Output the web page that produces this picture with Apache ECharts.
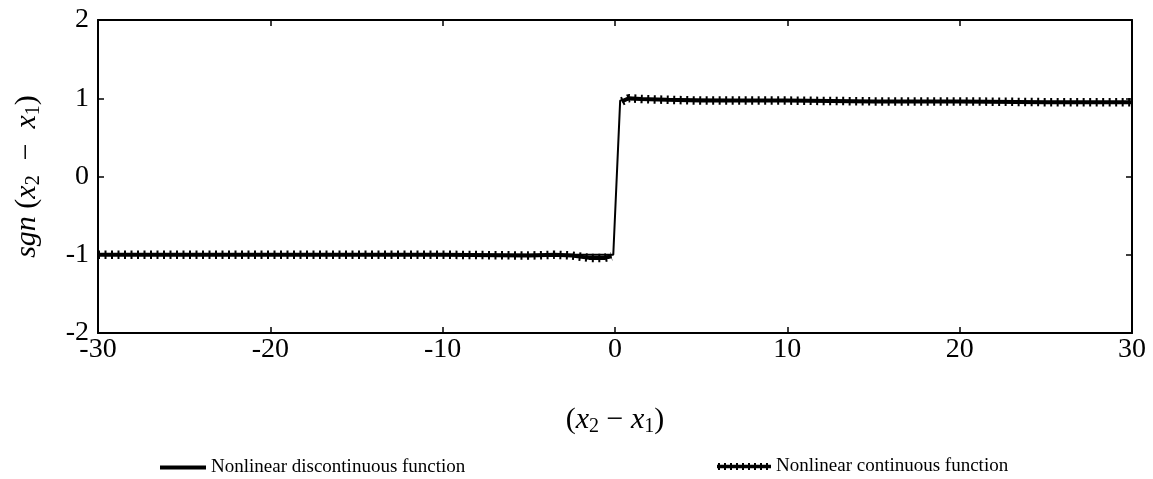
<!DOCTYPE html>
<html><head><meta charset="utf-8">
<script src="https://cdn.jsdelivr.net/npm/echarts@6/dist/echarts.min.js"></script>
<style>html,body{margin:0;padding:0;background:#fff}#c{width:1153px;height:479px}</style>
</head><body><div id="c"></div>
<script>
// Tick labels
const xTicks = [-30, -20, -10, 0, 10, 20, 30];
const yTicks = [-2, -1, 0, 1, 2];
// Nonlinear discontinuous function (thin line)
const discX = [-30, -10, -0.1, 0.3, 1, 10, 20, 30];
const discY = [-1.0, -1.0, -1.0, 0.97, 0.99, 0.97, 0.96, 0.95];
// Nonlinear continuous function (textured line); null = break
const contX = [-30, -20, -10, -5, -3.5, -2.5, -1.5, -0.6, -0.2, 0.2, 0.4, 0.8, 1.5, 3, 5, 10, 15, 20, 25, 30];
const contY = [-1.0, -1.0, -1.0, -1.01, -1.0, -1.01, -1.04, -1.04, -1.02, null, 0.96, 1.0, 0.99, 0.98, 0.97, 0.97, 0.96, 0.96, 0.95, 0.95];

const disc = discX.map((x, i) => [x, discY[i]]);
const cont = contX.map((x, i) => [x, contY[i]]);
const F = '"Liberation Serif", "DejaVu Serif", serif';
const chart = echarts.init(document.getElementById('c'));
const axisCommon = {
  axisLine: {show: true, onZero: false, lineStyle: {color: '#000', width: 2}},
  axisTick: {show: true, inside: true, length: 6, lineStyle: {color: '#000', width: 1.5}},
  splitLine: {show: false}
};
const mathRich = {
  p: {fontFamily: F, fontSize: 30, lineHeight: 34, color: '#000'},
  i: {fontFamily: F, fontSize: 30, lineHeight: 34, fontStyle: 'italic', color: '#000'},
  s: {fontFamily: F, fontSize: 20, lineHeight: 20, verticalAlign: 'bottom', color: '#000'}
};
chart.setOption({
  animation: false,
  backgroundColor: '#fff',
  grid: {left: 98, right: 21, top: 20, bottom: 146},
  legend: [
    {data: [{name: 'Nonlinear discontinuous function', icon: 'path://M0,1H46V5H0Z'}],
     left: 155, top: 453, itemWidth: 46, itemHeight: 5, itemGap: 6,
     textStyle: {fontFamily: F, fontSize: 19, color: '#000'}},
    {data: [{name: 'Nonlinear continuous function',
      icon: 'path://M0,2.3H54V5.7H0Z M1,0.5h2v7h-2Z M7,0.5h2v7h-2Z M13,0.5h2v7h-2Z M19,0.5h2v7h-2Z M25,0.5h2v7h-2Z M31,0.5h2v7h-2Z M37,0.5h2v7h-2Z M43,0.5h2v7h-2Z M49,0.5h2v7h-2Z'}],
     left: 712, top: 452, itemWidth: 54, itemHeight: 8, itemGap: 6,
     textStyle: {fontFamily: F, fontSize: 19, color: '#000'}}
  ],
  xAxis: [
    Object.assign({type: 'value', min: -30, max: 30, interval: 10, position: 'bottom',
      name: '{p|(}{i|x}{s|2}{p| − }{i|x}{s|1}{p|)}', nameLocation: 'middle', nameGap: 70,
      nameTextStyle: {fontFamily: F, fontSize: 30, color: '#000', rich: mathRich},
      axisLabel: {fontFamily: F, fontSize: 28, color: '#000', margin: 3,
        formatter: v => xTicks.includes(v) ? String(v) : ''}}, axisCommon),
    Object.assign({type: 'value', min: -30, max: 30, interval: 10, position: 'top',
      axisLabel: {show: false}}, axisCommon)
  ],
  yAxis: [
    Object.assign({type: 'value', min: -2, max: 2, interval: 1, position: 'left',
      name: '{i|sgn }{p|(}{i|x}{s|2}{p|  −  }{i|x}{s|1}{p|)}', nameLocation: 'middle', nameGap: 54, nameRotate: 90,
      nameTextStyle: {fontFamily: F, fontSize: 30, color: '#000', rich: mathRich},
      axisLabel: {fontFamily: F, fontSize: 28, color: '#000', margin: 9,
        formatter: v => yTicks.includes(v) ? String(v) : ''}}, axisCommon),
    Object.assign({type: 'value', min: -2, max: 2, interval: 1, position: 'right',
      axisLabel: {show: false}}, axisCommon)
  ],
  series: [
    {name: 'Nonlinear discontinuous function', type: 'line', data: disc, showSymbol: false, symbol: 'none',
      lineStyle: {color: '#000', width: 2}, itemStyle: {color: '#000'}, z: 2},
    {name: 'Nonlinear continuous function', type: 'line', data: cont, showSymbol: false, symbol: 'none',
      connectNulls: false, lineStyle: {color: '#000', width: 4}, itemStyle: {color: '#000'}, z: 3},
    {name: 'texture', type: 'line', data: cont, showSymbol: false, symbol: 'none', silent: true,
      connectNulls: false, lineStyle: {color: '#000', width: 8.5, type: [2, 4.5]}, z: 4}
  ]
});
</script></body></html>
